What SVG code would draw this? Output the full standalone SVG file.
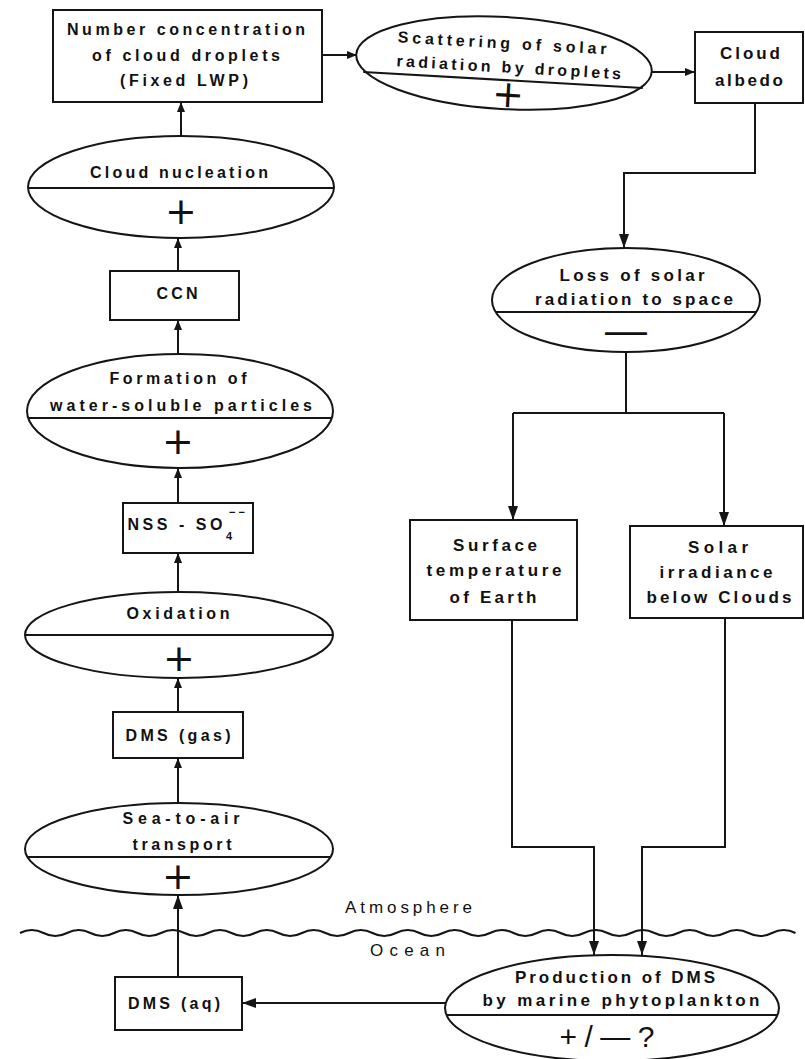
<svg xmlns="http://www.w3.org/2000/svg" width="805" height="1059" viewBox="0 0 805 1059">
  <style>
    .bg { fill: #ffffff; }
    .box { fill: #ffffff; stroke: #151515; stroke-width: 2; }
    .proc { fill: #ffffff; stroke: #151515; stroke-width: 2; }
    .div { stroke: #151515; stroke-width: 2; fill: none; }
    .link { stroke: #151515; stroke-width: 2; fill: none; }
    .t { font-family: "Liberation Sans", Arial, sans-serif; font-size: 16px; font-weight: bold; fill: #111111; text-anchor: middle; dominant-baseline: central; }
    .tr { font-size: 17px; }
    .lbl { font-family: "Liberation Sans", Arial, sans-serif; font-size: 17px; fill: #111111; dominant-baseline: central; }
    .sign { font-family: "DejaVu Sans", sans-serif; font-size: 38px; fill: #111111; text-anchor: middle; dominant-baseline: central; }
    .dash { font-family: "Liberation Sans", Arial, sans-serif; font-size: 42px; fill: #111111; text-anchor: middle; dominant-baseline: central; }
    .sub { font-family: "Liberation Sans", Arial, sans-serif; font-size: 11px; font-weight: bold; fill: #111111; text-anchor: middle; dominant-baseline: central; }
  </style>
  <defs>
    <marker id="arrow" viewBox="0 0 10 8" refX="10" refY="4" markerWidth="10" markerHeight="8" markerUnits="userSpaceOnUse" orient="auto">
      <path d="M0,0 L10,4 L0,8 z" fill="#151515"/>
    </marker>
    <marker id="arrowBig" viewBox="0 0 14 10" refX="14" refY="5" markerWidth="14" markerHeight="10" markerUnits="userSpaceOnUse" orient="auto">
      <path d="M0,0 L14,5 L0,10 z" fill="#151515"/>
    </marker>
  </defs>

  <rect class="bg" x="0" y="0" width="805" height="1059"/>

  <!-- air/sea interface -->
  <g id="surface-line">
    <path class="div" d="M20 933 q11.75 -6 23.5 0 t23.5 0 t23.5 0 t23.5 0 t23.5 0 t23.5 0 t23.5 0 t23.5 0 t23.5 0 t23.5 0 t23.5 0 t23.5 0 t23.5 0 t23.5 0 t23.5 0 t23.5 0 t23.5 0 t23.5 0 t23.5 0 t23.5 0 t23.5 0 t23.5 0 t23.5 0 t23.5 0 t23.5 0 t23.5 0 t23.5 0 t23.5 0 t23.5 0 t23.5 0 t23.5 0 t23.5 0 t23.5 0"/>
    <text class="lbl" x="345" y="907" textLength="127" lengthAdjust="spacing">Atmosphere</text>
    <text class="lbl" x="370" y="950" textLength="75" lengthAdjust="spacing">Ocean</text>
  </g>

  <!-- connectors -->
  <g id="connectors">
    <path class="link" d="M181 135 V102" marker-end="url(#arrow)"/>
    <path class="link" d="M178 271 V238" marker-end="url(#arrow)"/>
    <path class="link" d="M178 355 V320" marker-end="url(#arrow)"/>
    <path class="link" d="M178 503 V468" marker-end="url(#arrow)"/>
    <path class="link" d="M178 592 V553" marker-end="url(#arrow)"/>
    <path class="link" d="M178 712 V678" marker-end="url(#arrow)"/>
    <path class="link" d="M178 803 V758" marker-end="url(#arrow)"/>
    <path class="link" d="M178 977 V895" marker-end="url(#arrowBig)"/>
    <path class="link" d="M322 55 H357" marker-end="url(#arrow)"/>
    <path class="link" d="M652 72 H695" marker-end="url(#arrow)"/>
    <path class="link" d="M755 103 V173 H624 V248" marker-end="url(#arrowBig)"/>
    <path class="link" d="M626 352 V413"/>
    <path class="link" d="M513 413 H724"/>
    <path class="link" d="M513 413 V520" marker-end="url(#arrowBig)"/>
    <path class="link" d="M724 413 V526" marker-end="url(#arrowBig)"/>
    <path class="link" d="M512 620 V847 H594 V955" marker-end="url(#arrowBig)"/>
    <path class="link" d="M725 618 V847 H642 V955" marker-end="url(#arrowBig)"/>
    <path class="link" d="M445 1003 H242" marker-end="url(#arrowBig)"/>
  </g>

  <!-- left column: atmospheric chain -->
  <g id="n-droplets">
    <rect class="box" x="53" y="10" width="269" height="92"/>
    <text class="t" x="186" y="29" textLength="238" lengthAdjust="spacing">Number concentration</text>
    <text class="t" x="186" y="55" textLength="188" lengthAdjust="spacing">of cloud droplets</text>
    <text class="t" x="184" y="80" textLength="128" lengthAdjust="spacing">(Fixed LWP)</text>
  </g>

  <g id="n-nucleation">
    <ellipse class="proc" cx="181" cy="187" rx="153" ry="51"/>
    <line class="div" x1="28" y1="188" x2="334" y2="188"/>
    <text class="t" x="179" y="172" textLength="178" lengthAdjust="spacing">Cloud nucleation</text>
    <text class="sign" x="181" y="211">+</text>
  </g>

  <g id="n-ccn">
    <rect class="box" x="110" y="271" width="129" height="49"/>
    <text class="t" x="177" y="293" textLength="41" lengthAdjust="spacing">CCN</text>
  </g>

  <g id="n-formation">
    <ellipse class="proc" cx="180" cy="411" rx="153" ry="57"/>
    <line class="div" x1="28" y1="418" x2="332" y2="418"/>
    <text class="t" x="178" y="378" textLength="137" lengthAdjust="spacing">Formation of</text>
    <text class="t" x="181" y="405" textLength="262" lengthAdjust="spacing">water-soluble particles</text>
    <text class="sign" x="178" y="441">+</text>
  </g>

  <g id="n-nss">
    <rect class="box" x="123" y="503" width="130" height="50"/>
    <text class="t" x="175" y="524" textLength="95" lengthAdjust="spacing">NSS - SO</text>
    <text class="sub" x="229" y="536">4</text>
    <text class="sub" x="237" y="512">− −</text>
  </g>

  <g id="n-oxidation">
    <ellipse class="proc" cx="179" cy="635" rx="154" ry="43"/>
    <line class="div" x1="25" y1="635" x2="333" y2="635"/>
    <text class="t" x="178" y="613" textLength="103" lengthAdjust="spacing">Oxidation</text>
    <text class="sign" x="179" y="658">+</text>
  </g>

  <g id="n-dms-gas">
    <rect class="box" x="113" y="712" width="130" height="46"/>
    <text class="t" x="178" y="735" textLength="105" lengthAdjust="spacing">DMS (gas)</text>
  </g>

  <g id="n-sea-to-air">
    <ellipse class="proc" cx="179" cy="849" rx="154" ry="46"/>
    <line class="div" x1="27" y1="857" x2="331" y2="857"/>
    <text class="t" x="181" y="818" textLength="117" lengthAdjust="spacing">Sea-to-air</text>
    <text class="t" x="182" y="844" textLength="99" lengthAdjust="spacing">transport</text>
    <text class="sign" x="178" y="876">+</text>
  </g>

  <g id="n-dms-aq">
    <rect class="box" x="115" y="977" width="127" height="53"/>
    <text class="t" x="174" y="1003" textLength="92" lengthAdjust="spacing">DMS (aq)</text>
  </g>

  <!-- right column: radiative chain -->
  <g id="n-scattering" transform="rotate(3.3 504 63)">
    <ellipse class="proc" cx="504" cy="63" rx="148" ry="46"/>
    <line class="div" x1="364" y1="80" x2="644" y2="80"/>
    <text class="t" x="501" y="43" textLength="209" lengthAdjust="spacing">Scattering of solar</text>
    <text class="t" x="509" y="67" textLength="225" lengthAdjust="spacing">radiation by droplets</text>
    <text class="sign" x="510" y="94">+</text>
  </g>

  <g id="n-albedo">
    <rect class="box" x="695" y="32" width="108" height="71"/>
    <text class="t tr" x="750" y="53" textLength="60" lengthAdjust="spacing">Cloud</text>
    <text class="t tr" x="749" y="80" textLength="68" lengthAdjust="spacing">albedo</text>
  </g>

  <g id="n-loss">
    <ellipse class="proc" cx="626" cy="300" rx="134" ry="52"/>
    <line class="div" x1="496" y1="312" x2="756" y2="312"/>
    <text class="t tr" x="632" y="275" textLength="145" lengthAdjust="spacing">Loss of solar</text>
    <text class="t tr" x="634" y="299" textLength="198" lengthAdjust="spacing">radiation to space</text>
    <text class="dash" x="626" y="329">—</text>
  </g>

  <g id="n-surface-temp">
    <rect class="box" x="410" y="520" width="167" height="100"/>
    <text class="t tr" x="495" y="545" textLength="84" lengthAdjust="spacing">Surface</text>
    <text class="t tr" x="494" y="570" textLength="135" lengthAdjust="spacing">temperature</text>
    <text class="t tr" x="493" y="597" textLength="87" lengthAdjust="spacing">of Earth</text>
  </g>

  <g id="n-irradiance">
    <rect class="box" x="630" y="526" width="173" height="92"/>
    <text class="t tr" x="718" y="547" textLength="60" lengthAdjust="spacing">Solar</text>
    <text class="t tr" x="716" y="572" textLength="113" lengthAdjust="spacing">irradiance</text>
    <text class="t tr" x="719" y="597" textLength="145" lengthAdjust="spacing">below Clouds</text>
  </g>

  <g id="n-production">
    <ellipse class="proc" cx="612" cy="1008" rx="167" ry="53"/>
    <line class="div" x1="447" y1="1015" x2="778" y2="1015"/>
    <text class="t tr" x="615" y="977" textLength="200" lengthAdjust="spacing">Production of DMS</text>
    <text class="t tr" x="621" y="1000" textLength="277" lengthAdjust="spacing">by marine phytoplankton</text>
    <text class="t" style="font-size:30px;font-weight:normal" x="607" y="1036" textLength="95" lengthAdjust="spacing">+/—?</text>
  </g>
</svg>
